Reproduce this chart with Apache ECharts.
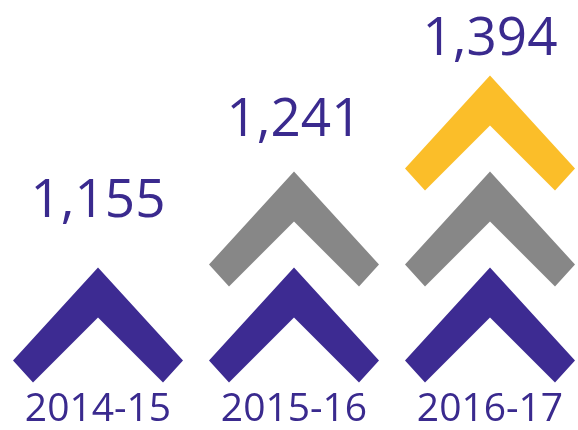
<!DOCTYPE html>
<html>
<head>
<meta charset="utf-8">
<script src="https://cdn.jsdelivr.net/npm/echarts@6/dist/echarts.min.js"></script>
<style>
html,body{margin:0;padding:0;background:#fff;}
#chart{width:578px;height:430px;}
</style>
</head>
<body>
<div id="chart"></div>
<script>
// ---- data ----
var categories = ['2014-15', '2015-16', '2016-17'];
var totals = [1155, 1241, 1394];
var chevronCounts = [1, 2, 3];

// ---- styles ----
var layerColors = ['#3D2B92', '#878787', '#FBBE29'];
var textColor = '#3A2A8E';
var chevronPath = 'path://M85,0 L170,93 L150,115 L85,50 L20,115 L0,93 Z';

var series = [];
for (var k = 1; k <= layerColors.length; k++) {
  var pts = [];
  for (var i = 0; i < categories.length; i++) {
    if (chevronCounts[i] >= k) pts.push([i, k]);
  }
  series.push({
    type: 'scatter',
    clip: false,
    symbol: chevronPath,
    symbolSize: [170, 115],
    symbolKeepAspect: false,
    itemStyle: { color: layerColors[k - 1], opacity: 1 },
    data: pts,
    silent: true,
    z: 2
  });
}

// value labels sit above the top chevron of each column
var labelPts = [];
for (var j = 0; j < categories.length; j++) {
  labelPts.push([j, 1.435 + 0.845 * chevronCounts[j], totals[j]]);
}
series.push({
  type: 'scatter',
  clip: false,
  symbolSize: 1,
  itemStyle: { color: 'rgba(0,0,0,0)', opacity: 1 },
  encode: { x: 0, y: 1 },
  data: labelPts,
  label: {
    show: true,
    position: 'inside',
    formatter: function (p) { return p.data[2].toLocaleString('en-US'); },
    fontFamily: 'Open Sans',
    fontSize: 53,
    fontWeight: 500,
    color: textColor,
    textBorderWidth: 0
  },
  silent: true,
  z: 3
});

var chart = echarts.init(document.getElementById('chart'), null, { renderer: 'canvas' });
chart.setOption({
  backgroundColor: '#ffffff',
  animation: false,
  grid: { left: 98, right: 88, top: 37, bottom: 57 },
  xAxis: {
    type: 'category',
    boundaryGap: false,
    data: categories,
    axisLine: { show: false },
    axisTick: { show: false },
    splitLine: { show: false },
    axisLabel: {
      margin: 17,
      fontFamily: 'Open Sans',
      fontSize: 39,
      fontWeight: 500,
      color: textColor,
      interval: 0
    }
  },
  yAxis: {
    type: 'value',
    min: 0.5,
    max: 4,
    show: false,
    splitLine: { show: false }
  },
  series: series
});
</script>
</body>
</html>
